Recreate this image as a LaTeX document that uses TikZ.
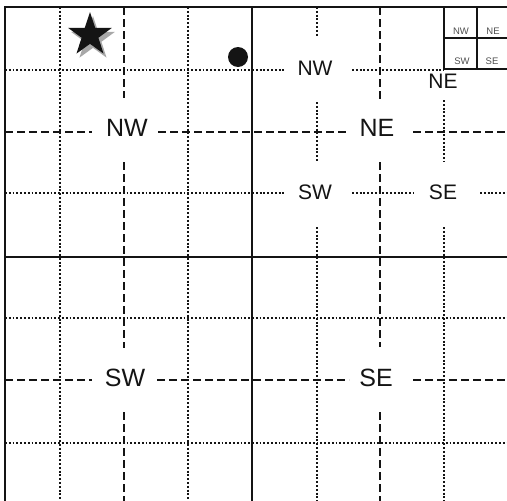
\documentclass[tikz,border=0pt]{standalone}
\usepackage{fontspec}
\setmainfont{Liberation Sans}
\usepackage{xcolor}
\definecolor{InkBlack}{HTML}{141414}
\definecolor{ShadeGray}{HTML}{A8A8A8}
\usepackage{tikz}
\usetikzlibrary{shapes.geometric}

\begin{document}
\begin{tikzpicture}[x=1pt,y=-1pt,
border/.style={draw=InkBlack,line width=1.9pt},
halfline/.style={draw=InkBlack,line width=1.8pt,dash pattern=on 8pt off 4pt},
quarterline/.style={draw=InkBlack,line width=1.9pt,dash pattern=on 1.9pt off 1.9pt},
bigtag/.style={font=\fontsize{25}{25}\selectfont,text=InkBlack,inner sep=0pt},
subtag/.style={font=\fontsize{21}{21}\selectfont,text=InkBlack,inner sep=0pt},
keytag/.style={font=\fontsize{9.5}{10}\selectfont,text=InkBlack!75,inner sep=0pt},
blot/.style={fill=InkBlack,inner sep=0pt}]
\useasboundingbox (0,0) rectangle (507,501);
\fill[white] (0,0) rectangle (507,501);
% quarter-quarter lines
\draw[quarterline] (60,7) -- (60,501) (188,7) -- (188,501);
\draw[quarterline] (5,70) -- (252,70) (5,193) -- (252,193);
\draw[quarterline] (5,318) -- (507,318) (5,443) -- (507,443);
\draw[quarterline] (317,257) -- (317,501) (444,257) -- (444,501);
\draw[quarterline] (317,7) -- (317,37) (317,102) -- (317,162) (317,227) -- (317,257);
\draw[quarterline] (444,100) -- (444,162) (444,227) -- (444,257);
\draw[quarterline] (252,70) -- (285,70) (352,70) -- (444,70);
\draw[quarterline] (252,193) -- (286,193) (352,193) -- (413,193) (480,193) -- (507,193);
% quarter lines
\draw[halfline] (124,7) -- (124,98) (124,162) -- (124,348) (124,412) -- (124,501);
\draw[halfline] (380,7) -- (380,100) (380,162) -- (380,347) (380,412) -- (380,501);
\draw[halfline] (5,132) -- (92,132) (158,132) -- (349,132) (413,132) -- (507,132);
\draw[halfline] (5,380) -- (92,380) (157,380) -- (349,380) (413,380) -- (507,380);
% section lines
\draw[border] (5,501) -- (5,7) -- (507,7);
\draw[border] (252,7) -- (252,501);
\draw[border] (5,257) -- (507,257);
\draw[border,line width=1.6pt] (444,7) -- (444,69) -- (507,69) (477,7) -- (477,69) (444,38) -- (507,38);
\node[bigtag] (nwbig) at (127,128) {NW};
\node[bigtag] (nebig) at (377,128) {NE};
\node[bigtag] (swbig) at (125,378) {SW};
\node[bigtag] (sebig) at (376,378) {SE};
\node[subtag] (nwsub) at (315,68) {NW};
\node[subtag] (nesub) at (443,81) {NE};
\node[subtag] (swsub) at (315,192) {SW};
\node[subtag] (sesub) at (443,192) {SE};
\node[keytag] (nwkey) at (461,31) {NW};
\node[keytag] (nekey) at (493,31) {NE};
\node[keytag] (swkey) at (462,61) {SW};
\node[keytag] (sekey) at (492,61) {SE};
\node[star,star points=5,star point ratio=2.6,fill=ShadeGray,inner sep=0pt,minimum size=46pt] (starshade) at (93,39) {};
\node[star,star points=5,star point ratio=2.6,blot,minimum size=46pt] (starmark) at (90,35) {};
\node[circle,blot,minimum size=20pt] (dotmark) at (238,57) {};
\end{tikzpicture}
\end{document}
